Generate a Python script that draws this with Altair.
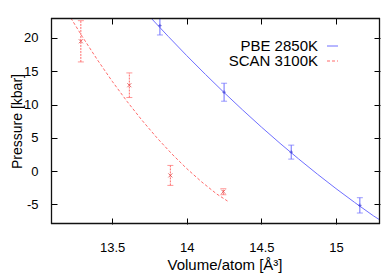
import altair as alt
import pandas as pd

# ---- data ----
pbe_vol = [13.82, 14.25, 14.70, 15.16]
pbe_p = [21.85, 11.85, 2.85, -5.15]
pbe_err = [1.4, 1.35, 1.05, 1.15]

scan_vol = [13.29, 13.615, 13.89, 14.245]
scan_p = [19.5, 12.9, -0.65, -3.1]
scan_err = [3.1, 1.85, 1.5, 0.45]

pbe_fit_v = [13.76, 13.875, 14.0, 14.125, 14.25, 14.375, 14.5, 14.625, 14.75, 14.875, 15.0, 15.125, 15.25, 15.295]
pbe_fit_p = [23.0, 20.25, 17.34, 14.53, 11.8, 9.17, 6.62, 4.17, 1.82, -0.45, -2.63, -4.71, -6.71, -7.35]

scan_fit_v = [13.223, 13.30, 13.40, 13.50, 13.60, 13.70, 13.80, 13.90, 14.00, 14.10, 14.20, 14.273]
scan_fit_p = [23.0, 20.2, 16.75, 13.5, 10.46, 7.63, 5.0, 2.58, 0.37, -1.63, -3.43, -4.5]

legend_labels = ["PBE 2850K", "SCAN 3100K"]
x_ticks = [13.5, 14, 14.5, 15]
y_ticks = [-5, 0, 5, 10, 15, 20]

BLUE = "#6f6fff"
RED = "#ff6b6b"
FONT = "Liberation Sans"
W, H = 329, 206

pbe = pd.DataFrame({"v": pbe_vol, "p": pbe_p, "e": pbe_err})
pbe["lo"] = pbe["p"] - pbe["e"]
pbe["hi"] = pbe["p"] + pbe["e"]
scan = pd.DataFrame({"v": scan_vol, "p": scan_p, "e": scan_err})
scan["lo"] = scan["p"] - scan["e"]
scan["hi"] = scan["p"] + scan["e"]
pbe_fit = pd.DataFrame({"v": pbe_fit_v, "p": pbe_fit_p})
scan_fit = pd.DataFrame({"v": scan_fit_v, "p": scan_fit_p})

xs = alt.Scale(domain=[13.09, 15.295], nice=False, zero=False)
ys = alt.Scale(domain=[-7.95, 23.0], nice=False, zero=False)

x_axis = alt.Axis(values=x_ticks, offset=-6, tickSize=6, domain=False, grid=False,
                  labelExpr="'' + datum.value", labelPadding=17, labelFontSize=13,
                  labelFont=FONT, labelColor="black", tickColor="black",
                  title="Volume/atom [Å³]", titleFont=FONT, titleFontSize=15,
                  titleFontWeight="normal", titleColor="black",
                  titleX=173.5, titleY=51, titleBaseline="alphabetic", titleAlign="center")
y_axis = alt.Axis(values=y_ticks, offset=-6, tickSize=6, domain=False, grid=False,
                  labelExpr="'' + datum.value", labelPadding=13, labelFontSize=13,
                  labelFont=FONT, labelColor="black", tickColor="black",
                  title="Pressure [kbar]", titleFont=FONT, titleFontSize=14,
                  titleFontWeight="normal", titleColor="black",
                  titleX=-36, titleY=103, titleAngle=270, titleBaseline="alphabetic",
                  titleAlign="center")

X = alt.X("v:Q", scale=xs, axis=x_axis)
Y = alt.Y("p:Q", scale=ys, axis=y_axis)
Xn = alt.X("v:Q", scale=xs, axis=None)
Yn = alt.Y("p:Q", scale=ys, axis=None)

base_main = alt.Chart(pbe_fit).mark_line(color=BLUE, strokeWidth=1, clip=True).encode(x=X, y=Y)

scan_line = alt.Chart(scan_fit).mark_line(color=RED, strokeWidth=1, strokeDash=[3, 2], clip=True).encode(x=Xn, y=Yn)

pbe_err_ch = alt.Chart(pbe).mark_errorbar(ticks={"size": 6}, color=BLUE, clip=True).encode(
    x=Xn, y=alt.Y("lo:Q", scale=ys, axis=None), y2="hi:Q")
scan_err_ch = alt.Chart(scan).mark_errorbar(ticks={"size": 6}, rule={"strokeDash": [2, 1]},
                                            color=RED, clip=True).encode(
    x=Xn, y=alt.Y("lo:Q", scale=ys, axis=None), y2="hi:Q")

pbe_pts = alt.Chart(pbe).mark_point(shape="M-1,0L1,0M0,-1L0,1", size=12, filled=False,
                                    color="#3333cc", strokeWidth=1).encode(x=Xn, y=Yn)
scan_pts = alt.Chart(scan).mark_point(shape="M-1,-1L1,1M-1,1L1,-1", size=16, filled=False,
                                      color="#e03030", strokeWidth=1).encode(x=Xn, y=Yn)

# top / right inward ticks (invisible carrier mark)
mirror = alt.Chart(pbe).mark_point(opacity=0, size=0).encode(
    x=alt.X("v:Q", scale=xs, axis=alt.Axis(orient="top", values=x_ticks, offset=-6, tickSize=6,
                                         labels=False, domain=False, grid=False, title=None,
                                         tickColor="black")),
    y=alt.Y("p:Q", scale=ys, axis=alt.Axis(orient="right", values=y_ticks, offset=-6, tickSize=6,
                                         labels=False, domain=False, grid=False, title=None,
                                         tickColor="black")),
)

# plot frame as four rules
one = pd.DataFrame({"f": [0]})
FR = "#111111"
frame = [
    alt.Chart(one).mark_rule(color=FR, strokeWidth=1.3).encode(
        x=alt.value(0.5), y=alt.value(0), y2=alt.value(H)),
    alt.Chart(one).mark_rule(color=FR, strokeWidth=1.3).encode(
        x=alt.value(W - 0.5), y=alt.value(0), y2=alt.value(H)),
    alt.Chart(one).mark_rule(color=FR, strokeWidth=1.3).encode(
        y=alt.value(0.5), x=alt.value(0), x2=alt.value(W)),
    alt.Chart(one).mark_rule(color=FR, strokeWidth=1.3).encode(
        y=alt.value(H - 0.5), x=alt.value(0), x2=alt.value(W)),
]

# legend
leg_layers = []
leg_text_y = [32.7, 48]
leg_line_y = [28, 43]
leg_colors = [BLUE, RED]
leg_dash = [[1, 0], [3, 2]]
for i, lab in enumerate(legend_labels):
    d = pd.DataFrame({"label": [lab]})
    leg_layers.append(alt.Chart(d).mark_text(align="right", baseline="alphabetic", fontSize=15,
                                             font=FONT, color="black").encode(
        text="label:N", x=alt.value(267), y=alt.value(leg_text_y[i])))
    leg_layers.append(alt.Chart(d).mark_rule(color=leg_colors[i], strokeWidth=1,
                                             strokeDash=leg_dash[i]).encode(
        x=alt.value(276), x2=alt.value(287), y=alt.value(leg_line_y[i])))

chart = alt.layer(base_main, scan_line, pbe_err_ch, scan_err_ch, pbe_pts, scan_pts, mirror,
                  *frame, *leg_layers).resolve_axis(x="independent", y="independent").properties(
    width=W, height=H,
    autosize=alt.AutoSizeParams(type="none"),
    padding={"left": 43, "top": 10, "right": 1, "bottom": 50},
    background="white",
).configure_view(stroke=None)

chart.save("out.html", embed_options={"renderer": "svg", "actions": False})
